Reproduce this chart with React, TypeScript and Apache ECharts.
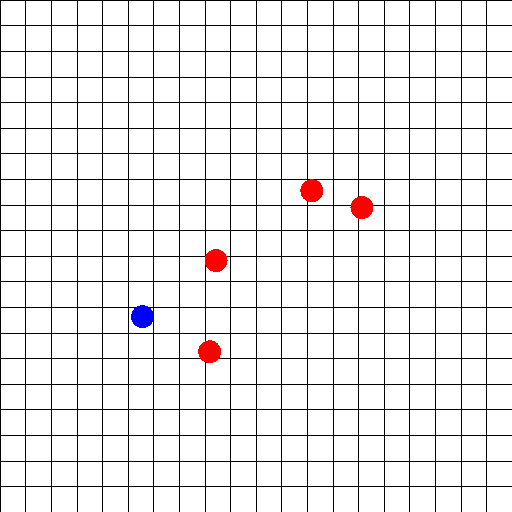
import React, { useEffect, useRef } from "react";
import * as echarts from "echarts";

const gridCells = 20;
const bluePoints: [number, number][] = [[5.57, 7.63]];
const redPoints: [number, number][] = [
  [12.18, 12.55],
  [14.14, 11.89],
  [8.44, 9.82],
  [8.19, 6.26],
];

export default function App() {
  const ref = useRef<HTMLDivElement>(null);
  useEffect(() => {
    if (!ref.current) return;
    const chart = echarts.init(ref.current, null, { renderer: "svg" });
    const axisBase = {
      type: "value" as const,
      min: 0,
      max: gridCells,
      interval: 1,
      axisLine: { show: false },
      axisTick: { show: false },
      axisLabel: { show: false },
      splitLine: { show: true, lineStyle: { color: "#000000", width: 1, type: "solid" as const } },
    };
    chart.setOption({
      animation: false,
      backgroundColor: "#ffffff",
      grid: { left: 0, right: 0, top: 0, bottom: 0 },
      xAxis: { ...axisBase },
      yAxis: { ...axisBase },
      series: [
        {
          type: "scatter",
          data: redPoints,
          symbol: "circle",
          symbolSize: 23,
          itemStyle: { color: "#ff0000", opacity: 1 },
        },
        {
          type: "scatter",
          data: bluePoints,
          symbol: "circle",
          symbolSize: 23,
          itemStyle: { color: "#0000ff", opacity: 1 },
        },
      ],
    });
    return () => chart.dispose();
  }, []);
  return (
    <>
      <style>{`.crisp-chart svg path { shape-rendering: crispEdges; }`}</style>
      <div
        ref={ref}
        className="crisp-chart"
        style={{ position: "fixed", left: 0, top: 0, width: 512, height: 512 }}
      />
    </>
  );
}
